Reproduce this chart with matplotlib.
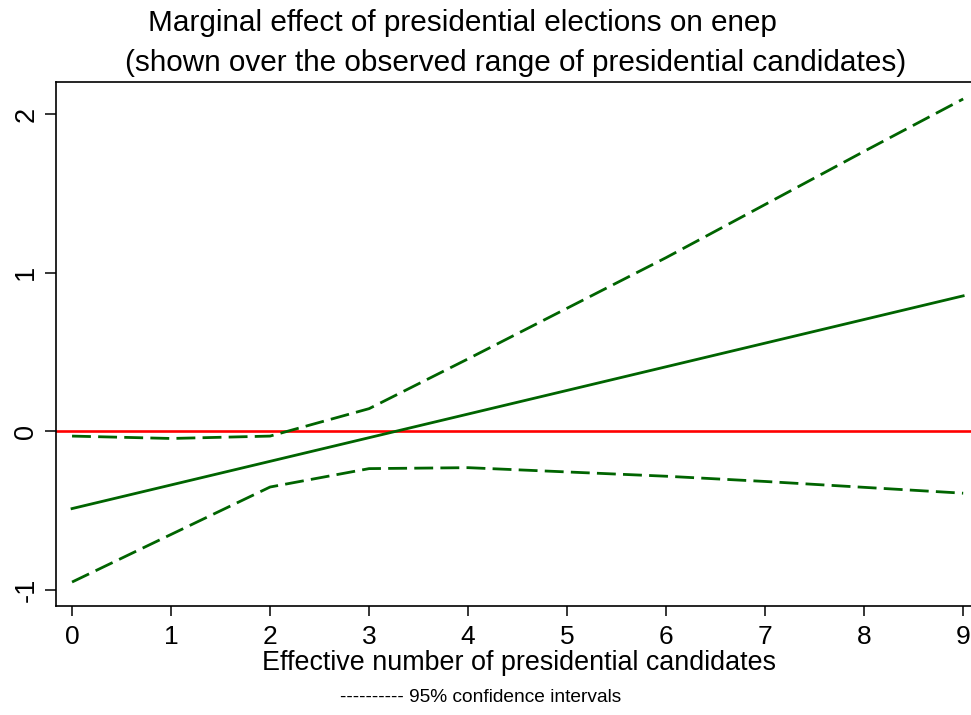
import matplotlib
matplotlib.use("Agg")
import matplotlib.pyplot as plt

# valores (efeito marginal e IC 95%)
candidates = [0, 1, 2, 3, 4, 5, 6, 7, 8, 9]
effect = [-0.487, -0.338, -0.189, -0.040, 0.109, 0.258, 0.407, 0.556, 0.705, 0.854]
upper_ci = [-0.03, -0.045, -0.03, 0.143, 0.457, 0.776, 1.095, 1.43, 1.765, 2.095]
lower_ci = [-0.95, -0.65, -0.351, -0.235, -0.229, -0.256, -0.283, -0.316, -0.353, -0.39]

x_ticks = [0, 1, 2, 3, 4, 5, 6, 7, 8, 9]
y_ticks = [-1, 0, 1, 2]

green = "#006400"
plt.rcParams["font.family"] = ["Liberation Sans", "DejaVu Sans"]

W, H = 971, 715
fig = plt.figure(figsize=(W / 100, H / 100), dpi=100)
ax = fig.add_axes([56 / W, (H - 606) / H, (980 - 56) / W, (606 - 82) / H])

ax.axhline(0, color="#ff0000", lw=1.9, zorder=1)
ax.plot(candidates, effect, color=green, lw=2.0, zorder=2)
ax.plot(candidates, upper_ci, color=green, lw=2.0, dashes=(6.8, 2.6), zorder=2)
ax.plot(candidates, lower_ci, color=green, lw=2.0, dashes=(6.8, 2.6), zorder=2)

ax.set_xlim(-0.162, 9.17)
ax.set_ylim(-1.101, 2.202)
ax.set_xticks(x_ticks)
ax.set_yticks(y_ticks)
ax.set_xticklabels([str(v) for v in x_ticks], fontsize=19)
ax.set_yticklabels([str(v) for v in y_ticks], fontsize=19.5, rotation=90, va="center")
ax.tick_params(axis="x", length=7, width=1.1, pad=7)
ax.tick_params(axis="y", length=8, width=1.1, pad=4)

for side in ["left", "bottom", "top"]:
    ax.spines[side].set_linewidth(1.2)
ax.spines["right"].set_visible(False)

fig.text(462 / W, 1 - 23 / H, "Marginal effect of presidential elections on enep",
         ha="center", va="center", fontsize=21.4)
fig.text(516 / W, 1 - 63 / H, "(shown over the observed range of presidential candidates)",
         ha="center", va="center", fontsize=21.4)
fig.text(519 / W, 1 - 663 / H, "Effective number of presidential candidates",
         ha="center", va="center", fontsize=19.4)
fig.text(481 / W, 1 - 697 / H, "---------- 95% confidence intervals",
         ha="center", va="center", fontsize=13.8)

fig.savefig("out.png", dpi=100)
